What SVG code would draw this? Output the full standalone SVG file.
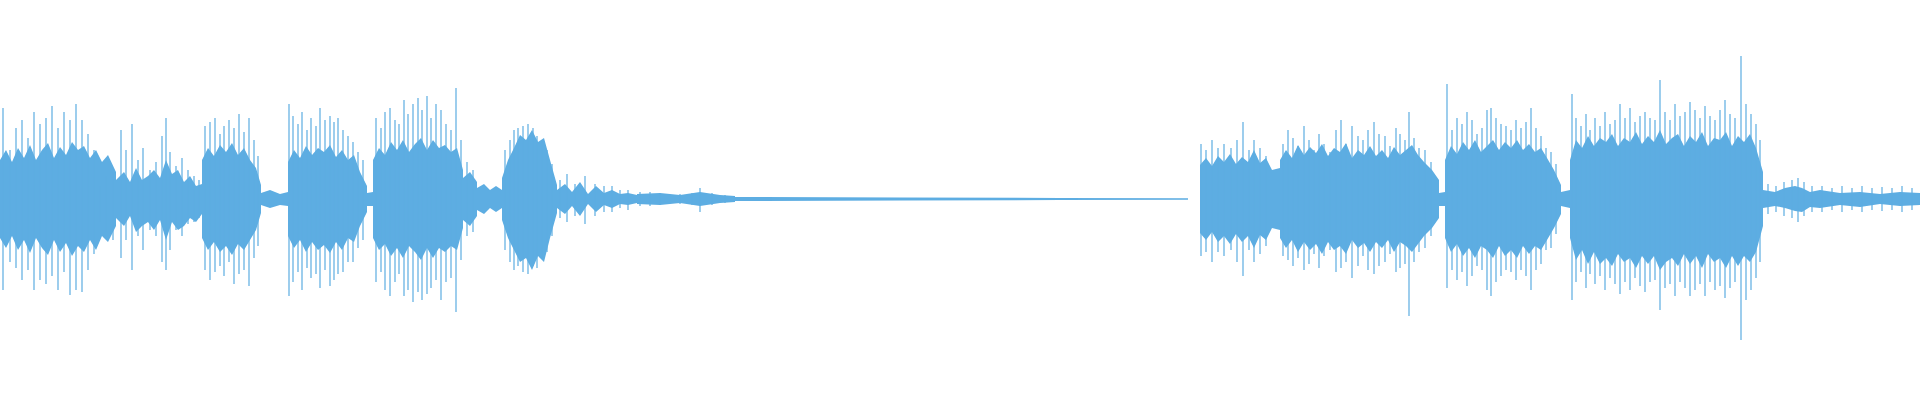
<svg xmlns="http://www.w3.org/2000/svg" width="1920" height="400" viewBox="0 0 1920 400">
<style>.w{fill:#5dade2}.s{stroke:#5dade2;stroke-width:1.2;fill:none}.t{stroke:#5dade2;stroke-width:2;fill:none}</style>
<rect width="1920" height="400" fill="#fff"/>
<g id="waveform">
<path class="w" d="M0 160 L6 150 12 162 18 148 24 158 30 145 36 160 42 150 48 143 54 158 60 147 66 155 72 142 78 150 84 146 90 158 96 150 102 162 108 155 116 172 L116 226 108 242 102 236 96 250 90 240 84 252 78 246 72 256 66 243 60 252 54 240 48 255 42 248 36 238 30 253 24 240 18 250 12 236 6 248 0 238 Z"/>
<path class="w" d="M116 180 L124 172 130 182 136 168 142 180 148 176 154 170 160 178 166 160 172 174 178 170 184 182 190 176 196 186 202 184 L202 214 196 222 190 218 184 226 178 230 172 222 166 240 160 220 154 230 148 222 142 226 136 232 130 216 124 226 116 218 Z"/>
<path class="w" d="M202 160 L208 148 214 156 220 145 226 152 232 143 238 155 244 148 250 160 256 168 261 185 L261 213 256 230 250 240 244 250 238 244 232 255 226 246 220 252 214 242 208 250 202 238 Z"/>
<path class="w" d="M261 193 L270 190 280 194 288 192 L288 206 280 205 270 208 261 205 Z"/>
<path class="w" d="M288 162 L294 150 300 158 306 146 312 155 318 148 324 152 330 145 336 157 342 150 348 160 354 155 360 172 367 186 L367 212 360 226 354 242 348 238 342 250 336 242 330 253 324 245 318 250 312 242 306 252 300 240 294 248 288 236 Z"/>
<path class="w" d="M367 193 L373 192 L373 206 367 206 Z"/>
<path class="w" d="M373 160 L379 148 385 155 391 142 397 150 403 140 409 152 415 144 421 138 427 150 433 140 439 148 445 145 451 152 457 148 463 170 L463 228 457 250 451 246 445 252 439 248 433 258 427 248 421 260 415 252 409 246 403 258 397 248 391 256 385 244 379 250 373 238 Z"/>
<path class="w" d="M463 178 L470 172 477 182 L477 216 470 226 463 220 Z"/>
<path class="w" d="M477 188 L484 184 490 190 496 186 502 190 L502 208 496 212 490 208 484 214 477 210 Z"/>
<path class="w" d="M502 178 L508 160 514 148 520 135 526 140 532 130 538 142 544 138 550 160 557 185 L557 213 550 238 544 262 538 256 532 270 526 258 520 262 514 250 508 238 502 220 Z"/>
<path class="w" d="M557 190 L565 184 572 192 580 182 588 194 596 186 604 193 612 190 620 194 628 193 637 195 L637 203 628 205 620 204 612 208 604 205 596 212 588 204 580 216 572 206 565 214 557 208 Z"/>
<path class="w" d="M637 194 L660 193 680 195 700 192 720 195 735 196 L735 202 720 203 700 206 680 203 660 205 637 204 Z"/>
<path class="w" d="M735 197 L900 197.5 1060 198 1188 198.3 L1188 199.7 1060 200 900 200.5 735 201 Z"/>
<path class="w" d="M1200 165 L1206 158 1212 166 1218 156 1224 162 1230 154 1236 164 1242 157 1248 162 1254 150 1260 163 1266 158 1272 170 1280 168 L1280 230 1272 228 1266 240 1260 235 1254 248 1248 236 1242 242 1236 234 1230 244 1224 236 1218 242 1212 232 1206 240 1200 233 Z"/>
<path class="w" d="M1280 160 L1286 150 1292 158 1298 145 1304 155 1310 147 1316 153 1322 144 1328 156 1334 148 1340 152 1346 143 1352 158 1358 150 1364 155 1370 146 1376 156 1382 150 1388 158 1394 147 1400 155 1406 150 1412 145 1418 155 1424 162 1432 170 1439 180 L1439 218 1432 228 1424 236 1418 244 1412 252 1406 246 1400 242 1394 252 1388 240 1382 248 1376 242 1370 252 1364 243 1358 248 1352 240 1346 254 1340 246 1334 250 1328 242 1322 254 1316 244 1310 250 1304 242 1298 252 1292 240 1286 248 1280 238 Z"/>
<path class="w" d="M1439 193 L1445 192 L1445 206 1439 206 Z"/>
<path class="w" d="M1445 160 L1451 146 1457 154 1463 142 1469 150 1475 140 1481 152 1487 146 1493 140 1499 150 1505 142 1511 148 1517 140 1523 150 1529 144 1535 152 1541 148 1547 158 1554 170 1561 185 L1561 214 1554 228 1547 240 1541 250 1535 246 1529 254 1523 246 1517 258 1511 250 1505 256 1499 246 1493 258 1487 250 1481 246 1475 258 1469 248 1463 256 1457 244 1451 252 1445 238 Z"/>
<path class="w" d="M1561 192 L1570 190 L1570 208 1561 206 Z"/>
<path class="w" d="M1570 160 L1576 140 1582 148 1588 136 1594 146 1600 138 1606 142 1612 134 1618 146 1624 138 1630 142 1636 132 1642 144 1648 136 1654 142 1660 130 1666 144 1672 138 1678 134 1684 146 1690 136 1696 142 1702 132 1708 146 1714 138 1720 140 1726 132 1732 146 1738 136 1744 142 1750 134 1756 148 1763 172 L1763 226 1756 252 1750 262 1744 256 1738 266 1732 256 1726 268 1720 258 1714 262 1708 254 1702 268 1696 256 1690 264 1684 254 1678 266 1672 258 1666 262 1660 270 1654 256 1648 264 1642 256 1636 268 1630 258 1624 262 1618 254 1612 266 1606 258 1600 264 1594 252 1588 264 1582 250 1576 260 1570 238 Z"/>
<path class="w" d="M1763 190 L1775 192 1785 188 1795 186 1802 188 1810 192 1820 190 1840 193 1860 192 1880 194 1900 192 1920 193 L1920 205 1900 206 1880 204 1860 207 1840 205 1820 208 1810 207 1802 212 1795 211 1785 208 1775 206 1763 208 Z"/>
<path class="s" d="M3 108V290 M10 150V262 M16 128V268 M22 120V280 M28 138V270 M34 112V290 M40 124V280 M46 118V284 M52 106V276 M58 128V290 M64 112V272 M70 120V295 M76 104V290 M82 120V292 M88 134V270 M94 150V254 M100 186V222 M106 176V232 M113 172V240"/>
<path class="s" d="M121 130V258 M126 150V240 M132 124V270 M138 160V236 M143 148V250 M150 170V230 M156 162V236 M162 136V262 M166 118V270 M170 152V250 M176 166V230 M182 158V236 M188 170V224 M194 176V222 M199 180V218"/>
<path class="s" d="M205 126V270 M210 122V280 M215 118V272 M220 134V266 M224 126V276 M229 120V262 M234 128V284 M239 114V274 M244 132V270 M249 118V286 M254 140V258 M258 156V246"/>
<path class="s" d="M289 104V296 M293 116V282 M298 124V272 M302 112V290 M307 130V268 M311 118V278 M316 126V274 M320 108V288 M325 120V270 M330 116V286 M334 122V280 M338 118V274 M343 130V272 M348 136V262 M353 142V262 M358 152V248 M363 160V240"/>
<path class="s" d="M376 118V282 M381 128V272 M385 112V290 M390 108V296 M395 120V282 M399 124V274 M404 100V296 M408 114V290 M413 104V302 M418 98V292 M422 110V300 M427 96V294 M431 118V288 M436 104V280 M441 110V300 M446 124V282 M451 130V278 M456 88V312 M461 140V260 M467 162V236 M473 170V232"/>
<path class="s" d="M505 150V250 M510 140V262 M514 130V270 M518 128V266 M523 126V272 M528 124V274 M533 128V266 M537 136V268 M542 142V258 M547 150V252 M552 164V236 M560 180V218 M567 174V222 M575 184V216 M585 176V224 M595 184V216 M604 186V212 M612 186V212 M620 190V208 M628 190V210 M640 192V206 M650 192V206 M660 193V205 M680 194V204 M692 193V205 M700 188V212 M712 193V205 M725 195V203"/>
<path class="s" d="M1201 144V256 M1206 150V252 M1212 140V262 M1218 148V252 M1224 144V256 M1231 148V250 M1237 140V262 M1243 122V276 M1249 150V250 M1254 140V262 M1260 148V254 M1266 156V246"/>
<path class="s" d="M1283 144V256 M1288 130V260 M1293 138V266 M1298 146V258 M1304 126V270 M1309 140V264 M1314 150V254 M1319 134V268 M1324 144V256 M1330 152V250 M1336 130V272 M1341 120V268 M1346 144V262 M1352 126V278 M1358 136V266 M1363 140V256 M1368 130V270 M1374 122V274 M1379 134V266 M1385 136V262 M1390 146V254 M1396 128V272 M1400 134V268 M1405 140V264 M1409 112V316 M1414 138V262 M1419 148V252 M1425 150V248 M1431 162V236"/>
<path class="s" d="M1447 84V288 M1452 130V270 M1457 118V280 M1462 124V272 M1467 112V286 M1472 120V276 M1477 134V266 M1482 128V270 M1487 110V290 M1491 108V296 M1496 118V282 M1501 124V276 M1506 126V270 M1511 130V272 M1516 120V280 M1521 128V270 M1526 122V276 M1531 108V290 M1536 128V270 M1541 136V264 M1546 148V250 M1551 152V248 M1556 164V234"/>
<path class="s" d="M1572 94V300 M1576 118V282 M1581 126V272 M1586 114V288 M1590 130V274 M1595 118V284 M1600 126V276 M1605 112V290 M1610 124V278 M1615 120V284 M1620 104V294 M1625 118V282 M1630 108V290 M1635 122V278 M1640 116V286 M1645 112V292 M1650 118V282 M1655 120V280 M1660 80V310 M1665 112V288 M1670 120V284 M1675 104V296 M1680 116V282 M1685 112V288 M1690 102V296 M1695 110V290 M1700 118V284 M1705 106V296 M1710 116V282 M1715 120V290 M1720 110V286 M1725 100V298 M1730 114V288 M1735 118V282 M1741 56V340 M1746 104V300 M1751 114V290 M1756 124V278 M1760 140V262"/>
<path class="s" d="M1768 184V214 M1776 186V212 M1784 182V216 M1792 180V218 M1798 178V222 M1804 182V216 M1812 186V212 M1822 186V212 M1832 188V210 M1842 186V212 M1852 188V210 M1862 186V212 M1872 188V210 M1882 187V211 M1892 188V210 M1902 186V212 M1912 188V210"/>
</g>
</svg>
